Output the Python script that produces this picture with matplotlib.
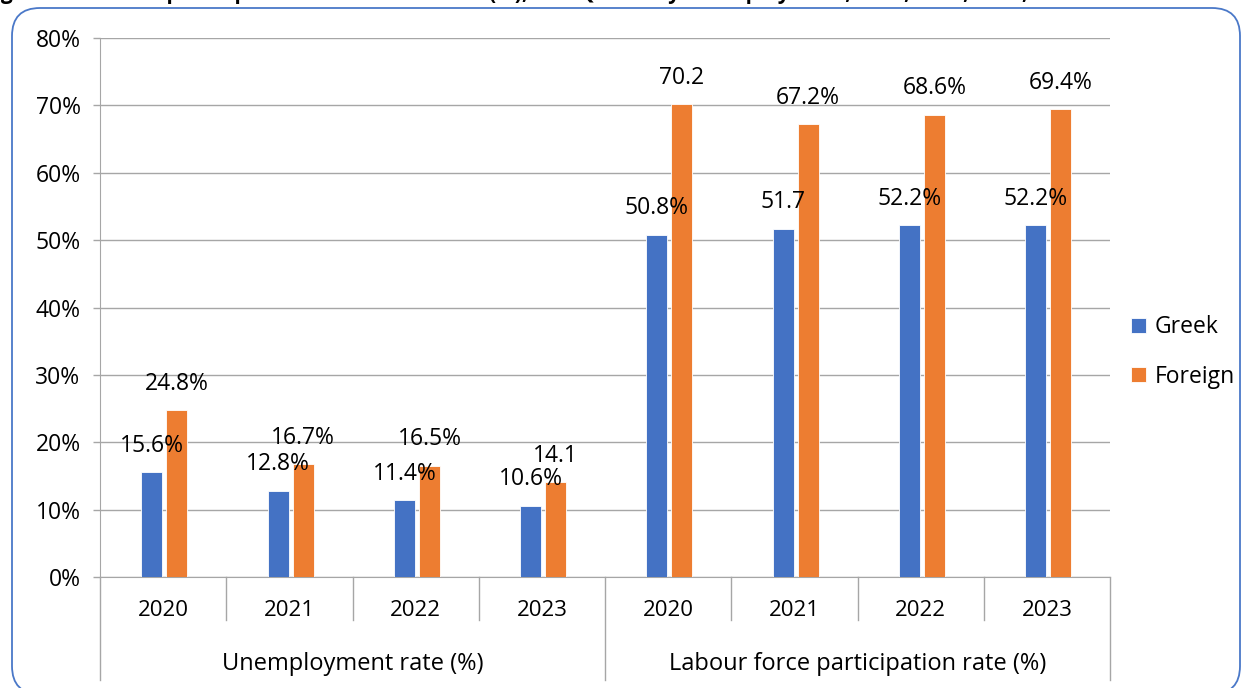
import matplotlib.pyplot as plt
import numpy as np
from matplotlib.patches import FancyBboxPatch

plt.rcParams['font.family'] = ['Open Sans', 'DejaVu Sans']

years = ["2020", "2021", "2022", "2023", "2020", "2021", "2022", "2023"]
groups = ["Unemployment rate (%)", "Labour force participation rate (%)"]
greek = [15.6, 12.8, 11.4, 10.6, 50.8, 51.7, 52.2, 52.2]
foreign = [24.8, 16.7, 16.5, 14.1, 70.2, 67.2, 68.6, 69.4]
greek_labels = ["15.6%", "12.8%", "11.4%", "10.6%", "50.8%", "51.7", "52.2%", "52.2%"]
foreign_labels = ["24.8%", "16.7%", "16.5%", "14.1", "70.2", "67.2%", "68.6%", "69.4%"]
yticks = [0, 10, 20, 30, 40, 50, 60, 70, 80]

BLUE = "#4472C4"
ORANGE = "#ED7D31"
GRID = "#A6A6A6"

W, H = 12.49, 6.88
fig = plt.figure(figsize=(W, H), dpi=100)
ax = fig.add_axes([100 / 1249, 1 - 577 / 688, 1010 / 1249, 539 / 688])

# rounded frame around the chart
frame = FancyBboxPatch((0.12, -0.06), 12.28, 6.86,
                       boxstyle="round,pad=0,rounding_size=0.28",
                       transform=fig.dpi_scale_trans, fill=False,
                       edgecolor="#4A78C8", linewidth=1.3)
fig.patches.append(frame)

# caption running off the top edge
fig.text(-0.014, 1.002, "Figure 5: Rates of participation in labour market (%), and Quarterly unemployment, 2020, 2021, 2022, and 2023",
         fontsize=15, fontweight="bold", ha="left", va="baseline")

x = np.arange(len(years))
bw = 0.167
gap = 0.016
b1 = ax.bar(x - bw / 2 - gap + 0.01, greek, bw, color=BLUE, edgecolor="white", linewidth=0.6, label="Greek", zorder=3)
b2 = ax.bar(x + bw / 2 + gap + 0.01, foreign, bw, color=ORANGE, edgecolor="white", linewidth=0.6, label="Foreign", zorder=3)

for bars, labels in ((b1, greek_labels), (b2, foreign_labels)):
    for rect, lab in zip(bars, labels):
        ax.annotate(lab, (rect.get_x() + rect.get_width() / 2, rect.get_height()),
                    xytext=(0, 19), textcoords="offset points",
                    ha="center", va="center", fontsize=16.5, zorder=4)

ax.set_ylim(0, 80)
ax.set_xlim(-0.5, len(years) - 0.5)
ax.set_yticks(yticks)
ax.set_yticklabels([f"{t}%" for t in yticks], fontsize=16.5)
ax.tick_params(axis="y", length=5, width=1, color=GRID, pad=9)
ax.yaxis.grid(True, color=GRID, linewidth=1, zorder=0)
for s in ("top", "right"):
    ax.spines[s].set_visible(False)
ax.spines["left"].set_color(GRID)
ax.spines["bottom"].set_color(GRID)

# two-level category axis
ax.set_xticks([])
tr = ax.get_xaxis_transform()
for i, yr in enumerate(years):
    ax.text(i, -0.063, yr, transform=tr, ha="center", va="center", fontsize=16)
for b in np.arange(-0.5, len(years), 1.0):
    depth = -0.191 if b in (-0.5, 3.5, 7.5) else -0.08
    ax.plot([b, b], [0, depth], transform=tr, color=GRID, linewidth=1, clip_on=False)
for g, name in enumerate(groups):
    ax.text(1.5 + 4 * g, -0.162, name, transform=tr, ha="center", va="center", fontsize=17)

fig.legend(handles=[b1, b2], labels=["Greek", "Foreign"], loc="center left",
           bbox_to_anchor=(1110 / 1249, 1 - 352 / 688), frameon=False,
           fontsize=16.5, handlelength=0.65, handleheight=0.65, handletextpad=0.4,
           labelspacing=1.1)

fig.savefig("out.png", dpi=100)
plt.close(fig)
